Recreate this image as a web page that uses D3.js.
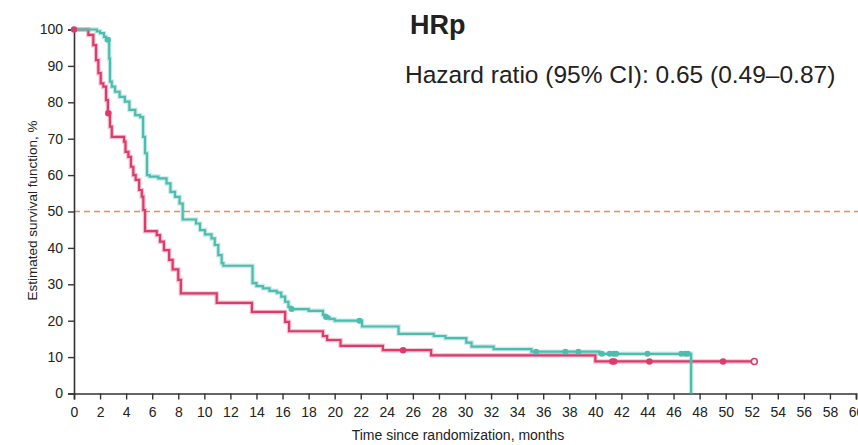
<!DOCTYPE html>
<html>
<head>
<meta charset="utf-8">
<script src="https://cdnjs.cloudflare.com/ajax/libs/d3/7.8.5/d3.min.js"></script>
<style>
  body { margin: 0; background: #fff; }
  text { font-family: "Liberation Sans", Arial, sans-serif; fill: #222; }
</style>
</head>
<body>
<div id="chart"></div>
<script>
// KM steps: month of event, survival % after it
const tealTimes = [0, 1.75, 2.0, 2.3, 2.45, 2.7, 2.76, 2.9, 3.15, 3.5, 3.9, 4.25, 4.7, 5.07, 5.3, 5.45, 5.6, 5.8, 6.47, 7.1, 7.4, 7.75, 8.1, 8.34, 9.36, 9.67, 10.05, 10.55, 10.8, 11.07, 11.33, 11.46, 13.7, 14.0, 14.5, 15.0, 15.55, 15.9, 16.2, 16.45, 16.6, 18.0, 19.1, 19.25, 19.6, 20.0, 22.1, 24.9, 27.6, 28.5, 30.1, 30.5, 32.2, 35.1, 40.3, 47.35];
const tealSurv  = [100, 99.5, 99, 98, 97.2, 92, 85.7, 84.3, 82.9, 81.5, 80.2, 77.9, 76.5, 75.9, 70.5, 66, 60, 59.6, 59.1, 57.7, 55.4, 54, 52.2, 47.8, 46.7, 44.9, 43.7, 42.6, 40.8, 38.0, 35.8, 35.1, 30.3, 29.5, 28.9, 28.2, 27.7, 26.6, 25.2, 23.8, 23.2, 22.7, 21.6, 21.0, 20.5, 20.0, 18.4, 16.4, 15.8, 15.2, 14.0, 12.9, 12.2, 11.5, 10.9, 0];
const tealCensor = [2.6, 16.7, 19.35, 21.9, 35.45, 37.7, 38.7, 40.5, 41.1, 41.4, 41.6, 44.0, 46.6, 46.9, 47.1];

const redTimes = [0, 1.1, 1.48, 1.69, 1.87, 2.05, 2.25, 2.46, 2.6, 2.76, 2.9, 3.84, 3.95, 4.17, 4.37, 4.55, 4.73, 5.0, 5.2, 5.32, 5.45, 6.35, 6.6, 6.9, 7.3, 7.57, 8.0, 8.2, 10.95, 13.65, 16.2, 16.5, 19.1, 19.42, 20.45, 23.7, 27.4, 40.0];
const redSurv  = [100, 98.5, 95.7, 91.6, 88.0, 85.2, 84.3, 80.6, 77.0, 73.3, 70.5, 69.2, 66.4, 65.0, 62.3, 60.0, 58.7, 55.9, 54.1, 50.4, 44.6, 43.5, 41.7, 39.4, 36.7, 34.1, 31.2, 27.5, 24.9, 22.4, 19.7, 17.1, 15.8, 14.7, 13.1, 11.9, 10.5, 8.8];
const redCensor = [0, 2.63, 25.25, 41.3, 41.45, 44.15, 49.8];
const redLastCensor = 52.2;   // drawn as an open circle

const xTicks = d3.range(0, 61, 2);
const yTicks = d3.range(0, 101, 10);

const width = 858, height = 445;
const svg = d3.select("#chart").append("svg")
    .attr("width", width)
    .attr("height", height);

const x = d3.scaleLinear().domain([0, 60]).range([74, 856]);
const y = d3.scaleLinear().domain([0, 100]).range([393.5, 29.5]);

// survival value at time t from a step curve
function survAt(times, surv, t) {
  let v = surv[0];
  for (let i = 0; i < times.length; i++) if (times[i] <= t) v = surv[i];
  return v;
}

// median reference line
svg.append("line")
    .attr("x1", x(0)).attr("x2", 858)
    .attr("y1", y(50)).attr("y2", y(50))
    .attr("stroke", "#f4874a")
    .attr("stroke-width", 1.5)
    .attr("stroke-dasharray", "6,4");

// axes
const xAxis = svg.append("g")
    .attr("transform", "translate(0," + y(0) + ")")
    .call(d3.axisBottom(x).tickValues(xTicks).tickSize(6).tickPadding(8));
const yAxis = svg.append("g")
    .attr("transform", "translate(" + x(0) + ",0)")
    .call(d3.axisLeft(y).tickValues(yTicks).tickSize(6).tickPadding(5));
[xAxis, yAxis].forEach(function (g) {
  g.select(".domain").attr("stroke", "#333").attr("stroke-width", 1.6);
  g.selectAll(".tick line").attr("stroke", "#333").attr("stroke-width", 1.4);
  g.selectAll(".tick text")
      .style("font-family", '"Liberation Sans", Arial, sans-serif')
      .style("font-size", "14px")
      .attr("fill", "#222");
});

const line = d3.line()
    .x(d => x(d[0]))
    .y(d => y(d[1]))
    .curve(d3.curveStepAfter);

const tealPts = tealTimes.map((t, i) => [t, tealSurv[i]]);
const redPts = redTimes.map((t, i) => [t, redSurv[i]]);
redPts.push([redLastCensor, redSurv[redSurv.length - 1]]);

const series = [
  { pts: redPts, color: "#dc3b6b" },
  { pts: tealPts, color: "#4cbdae" }
];

series.forEach(function (s) {
  svg.append("path")
      .attr("d", line(s.pts))
      .attr("fill", "none")
      .attr("stroke", s.color)
      .attr("stroke-opacity", 0.3)
      .attr("stroke-width", 4.5);
  svg.append("path")
      .attr("d", line(s.pts))
      .attr("fill", "none")
      .attr("stroke", s.color)
      .attr("stroke-width", 2.2);
});

// censor marks
svg.append("g").selectAll("circle")
    .data(tealCensor)
    .enter().append("circle")
    .attr("cx", d => x(d))
    .attr("cy", d => y(survAt(tealTimes, tealSurv, d)))
    .attr("r", 3)
    .attr("fill", "#4cbdae");

svg.append("g").selectAll("circle")
    .data(redCensor)
    .enter().append("circle")
    .attr("cx", d => x(d))
    .attr("cy", d => y(survAt(redTimes, redSurv, d)))
    .attr("r", 3.2)
    .attr("fill", "#dc3b6b");

svg.append("circle")
    .attr("cx", x(redLastCensor))
    .attr("cy", y(survAt(redTimes, redSurv, redLastCensor)))
    .attr("r", 3)
    .attr("fill", "#fff")
    .attr("stroke", "#dc3b6b")
    .attr("stroke-width", 1.6);

// titles
svg.append("text")
    .attr("x", 410).attr("y", 33.5)
    .style("font-size", "27px")
    .style("font-weight", "bold")
    .attr("fill", "#111")
    .text("HRp");

svg.append("text")
    .attr("x", 405).attr("y", 83)
    .style("font-size", "24.5px")
    .attr("fill", "#111")
    .text("Hazard ratio (95% CI): 0.65 (0.49\u20130.87)");

svg.append("text")
    .attr("x", 458).attr("y", 440)
    .attr("text-anchor", "middle")
    .style("font-size", "14px")
    .text("Time since randomization, months");

svg.append("text")
    .attr("text-anchor", "middle")
    .style("font-size", "13.5px")
    .attr("transform", "translate(37,210.5) rotate(-90)")
    .text("Estimated survival function, %");
</script>
</body>
</html>
